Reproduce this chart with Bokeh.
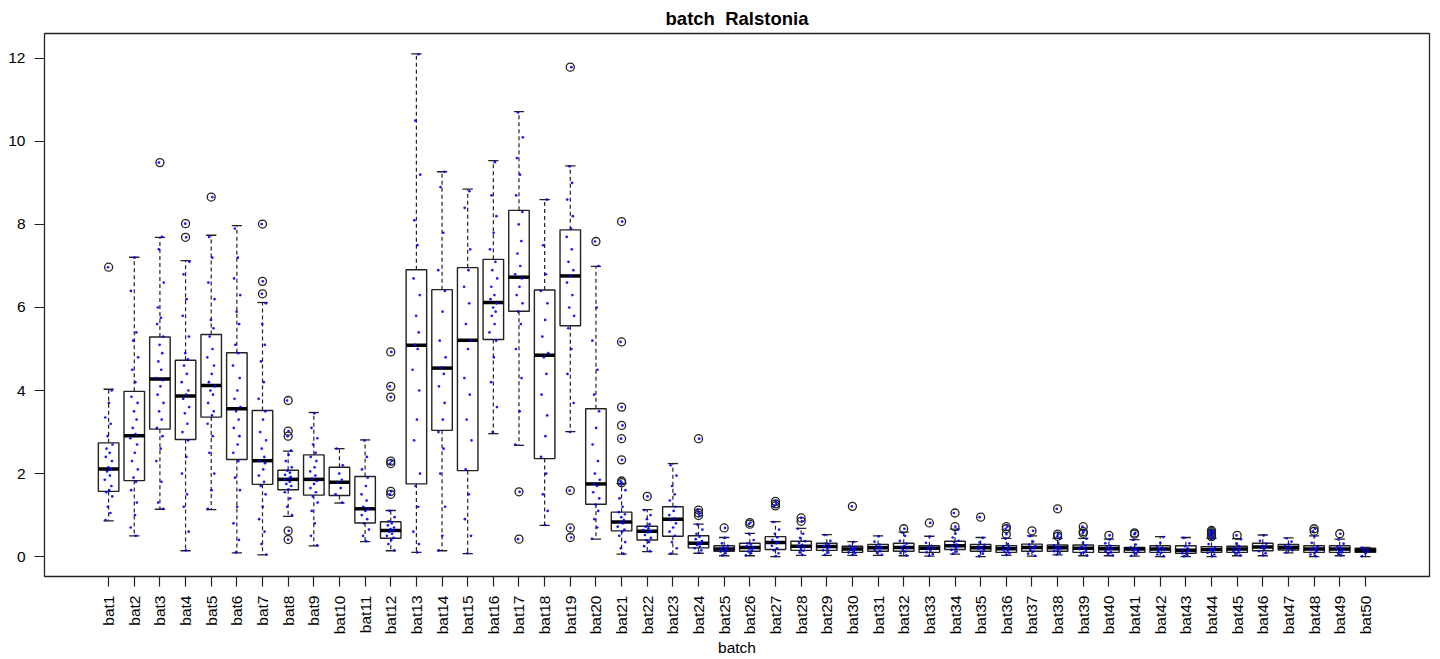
import math
from bokeh.plotting import figure
from bokeh.models import Range1d, FixedTicker
from bokeh.embed import file_html
from bokeh.resources import INLINE

# ---------------- data ----------------
batches = [f"bat{i}" for i in range(1, 51)]

whisk_lo = [0.86, 0.50, 1.14, 0.14, 1.13, 0.09, 0.04, 0.97, 0.26, 1.29,
            0.36, 0.14, 0.10, 0.14, 0.07, 2.96, 2.68, 0.75, 3.01, 0.42,
            0.06, 0.12, 0.06, 0.08, 0.02, 0.02, 0.00, 0.03, 0.03, 0.03,
            0.03, 0.02, 0.01, 0.06, 0.00, 0.03, 0.01, 0.04, 0.02, 0.02,
            0.01, 0.00, 0.00, 0.00, 0.02, 0.02, 0.09, 0.00, 0.02, 0.00]
q1 = [1.57, 1.83, 3.07, 2.82, 3.36, 2.34, 1.74, 1.61, 1.48, 1.47,
      0.81, 0.44, 1.75, 3.04, 2.07, 5.23, 5.91, 2.36, 5.56, 1.26,
      0.62, 0.40, 0.49, 0.21, 0.13, 0.13, 0.17, 0.15, 0.15, 0.10,
      0.13, 0.13, 0.10, 0.17, 0.13, 0.10, 0.13, 0.13, 0.10, 0.10,
      0.10, 0.10, 0.08, 0.10, 0.10, 0.14, 0.16, 0.10, 0.10, 0.10]
median = [2.11, 2.91, 4.28, 3.87, 4.12, 3.56, 2.31, 1.86, 1.86, 1.79,
          1.15, 0.63, 5.09, 4.54, 5.21, 6.12, 6.73, 4.85, 6.76, 1.75,
          0.83, 0.61, 0.90, 0.32, 0.18, 0.22, 0.34, 0.25, 0.24, 0.18,
          0.21, 0.22, 0.20, 0.26, 0.21, 0.19, 0.22, 0.21, 0.20, 0.19,
          0.18, 0.18, 0.15, 0.17, 0.18, 0.23, 0.22, 0.18, 0.18, 0.15]
q3 = [2.74, 3.98, 5.29, 4.73, 5.35, 4.91, 3.52, 2.08, 2.45, 2.15,
      1.93, 0.84, 6.91, 6.43, 6.96, 7.16, 8.34, 6.42, 7.87, 3.56,
      1.07, 0.73, 1.20, 0.50, 0.26, 0.32, 0.48, 0.37, 0.32, 0.25,
      0.29, 0.32, 0.26, 0.37, 0.29, 0.26, 0.30, 0.28, 0.28, 0.26,
      0.22, 0.26, 0.26, 0.24, 0.25, 0.32, 0.29, 0.26, 0.26, 0.20]
whisk_hi = [4.03, 7.21, 7.69, 7.13, 7.74, 7.97, 6.12, 2.54, 3.47, 2.60,
            2.81, 1.11, 12.11, 9.27, 8.85, 9.54, 10.72, 8.60, 9.41, 6.99,
            1.76, 1.13, 2.24, 0.78, 0.46, 0.56, 0.84, 0.68, 0.53, 0.36,
            0.50, 0.59, 0.49, 0.66, 0.46, 0.44, 0.50, 0.44, 0.44, 0.42,
            0.41, 0.48, 0.46, 0.44, 0.43, 0.52, 0.45, 0.50, 0.42, 0.22]

outliers = [
    [6.97], [], [9.49], [8.02, 7.69], [8.66], [], [8.01, 6.63, 6.33],
    [3.76, 3.02, 2.90, 0.62, 0.41], [], [], [],
    [4.93, 4.10, 3.84, 2.30, 2.24, 1.57, 1.50], [], [], [], [],
    [1.56, 0.42], [], [11.79, 1.59, 0.69, 0.46], [7.59],
    [8.07, 5.17, 3.60, 3.16, 2.84, 2.33, 1.82, 1.78], [1.45], [],
    [2.84, 1.12, 1.05, 0.99], [0.69], [0.82, 0.78], [1.33, 1.27, 1.22],
    [0.93, 0.85], [], [1.21], [], [0.67], [0.81], [1.05, 0.72], [0.95],
    [0.72, 0.67, 0.54], [0.62], [1.15, 0.54, 0.49], [0.72, 0.60, 0.56],
    [0.51], [0.57, 0.54], [], [], [0.63, 0.60, 0.57, 0.54, 0.51, 0.48],
    [0.51], [], [], [0.67, 0.61], [0.55], [],
]

points = [
    [0.88, 1.05, 1.2, 1.45, 1.55, 1.6, 1.7, 1.85, 1.95, 2.05, 2.1, 2.15, 2.3, 2.4, 2.5, 2.6, 2.7, 2.9, 3.2, 3.35, 3.7, 4.0],
    [0.5, 0.7, 1.0, 1.3, 1.6, 1.8, 1.9, 2.1, 2.3, 2.5, 2.7, 2.85, 2.95, 3.1, 3.3, 3.5, 3.7, 3.85, 4.2, 4.5, 4.8, 5.2, 5.4, 6.4, 7.2],
    [1.15, 1.3, 1.8, 2.3, 2.6, 2.9, 3.1, 3.3, 3.5, 3.7, 3.9, 4.1, 4.25, 4.3, 4.5, 4.7, 4.9, 5.1, 5.3, 5.6, 5.75, 6.0, 6.6, 7.4, 7.7],
    [0.15, 0.6, 1.2, 1.5, 2.0, 2.4, 2.8, 3.0, 3.2, 3.45, 3.6, 3.8, 3.9, 4.0, 4.2, 4.4, 4.6, 4.75, 4.9, 5.3, 5.8, 6.2, 6.8, 7.1],
    [1.15, 1.6, 2.0, 2.5, 2.9, 3.2, 3.4, 3.5, 3.7, 3.9, 4.0, 4.1, 4.2, 4.4, 4.6, 4.8, 5.0, 5.3, 5.5, 5.7, 6.2, 6.6, 7.2, 7.7],
    [0.1, 0.4, 0.8, 1.2, 1.6, 1.9, 2.3, 2.5, 2.7, 2.9, 3.1, 3.3, 3.5, 3.6, 3.8, 4.0, 4.3, 4.6, 4.9, 5.1, 5.6, 5.9, 6.3, 6.7, 7.2, 7.9],
    [0.05, 0.3, 0.6, 0.9, 1.2, 1.5, 1.7, 1.8, 1.95, 2.1, 2.25, 2.3, 2.4, 2.6, 2.8, 3.0, 3.3, 3.5, 3.8, 4.2, 4.7, 5.1, 5.6, 6.1],
    [1.0, 1.2, 1.4, 1.55, 1.62, 1.7, 1.75, 1.8, 1.85, 1.88, 1.92, 1.97, 2.02, 2.07, 2.15, 2.3, 2.45, 2.55],
    [0.27, 0.5, 0.8, 1.1, 1.3, 1.45, 1.55, 1.65, 1.75, 1.82, 1.88, 1.95, 2.05, 2.15, 2.3, 2.4, 2.5, 2.7, 2.85, 3.1, 3.45],
    [1.3, 1.5, 1.65, 1.78, 1.85, 2.0, 2.2, 2.6],
    [0.37, 0.5, 0.65, 0.8, 0.9, 1.0, 1.1, 1.15, 1.2, 1.35, 1.5, 1.7, 1.9, 2.1, 2.4, 2.8],
    [0.15, 0.3, 0.4, 0.45, 0.5, 0.55, 0.6, 0.63, 0.66, 0.7, 0.75, 0.8, 0.85, 0.95, 1.1],
    [0.1, 0.3, 0.6, 1.2, 1.7, 2.0, 2.8, 3.3, 4.0, 4.5, 5.0, 5.1, 5.4, 5.8, 6.3, 6.7, 7.5, 8.1, 9.2, 10.5, 12.1],
    [0.15, 0.5, 1.2, 2.0, 2.6, 3.0, 3.3, 3.7, 4.1, 4.4, 4.55, 4.8, 5.2, 5.9, 6.4, 6.9, 7.8, 8.9, 9.27],
    [0.08, 0.5, 0.9, 1.5, 2.1, 2.8, 3.3, 3.9, 4.3, 5.0, 5.2, 5.6, 6.1, 6.5, 6.9, 7.4, 8.4, 8.8],
    [3.0, 3.6, 4.2, 4.8, 5.2, 5.4, 5.6, 5.8, 5.9, 6.0, 6.1, 6.2, 6.3, 6.5, 6.7, 6.9, 7.1, 7.4, 7.8, 8.2, 8.7, 9.5],
    [2.7, 3.5, 4.3, 5.0, 5.6, 5.9, 6.1, 6.3, 6.5, 6.7, 6.8, 7.0, 7.3, 7.6, 8.0, 8.3, 8.7, 9.2, 9.6, 10.1, 10.7],
    [0.76, 1.1, 1.5, 2.0, 2.4, 2.9, 3.4, 3.9, 4.4, 4.8, 4.9, 5.3, 5.7, 6.1, 6.4, 6.8, 7.5, 8.6],
    [3.0, 3.7, 4.4, 5.0, 5.5, 5.8, 6.0, 6.3, 6.6, 6.75, 6.9, 7.1, 7.4, 7.7, 7.9, 8.2, 8.6, 9.0, 9.4],
    [0.43, 0.7, 0.9, 1.1, 1.25, 1.4, 1.55, 1.7, 1.75, 1.85, 2.0, 2.3, 2.7, 3.1, 3.5, 3.9, 4.5, 5.2, 6.0, 7.0],
    [0.07, 0.2, 0.35, 0.5, 0.6, 0.65, 0.72, 0.8, 0.83, 0.88, 0.95, 1.02, 1.07, 1.2, 1.4, 1.6, 1.75],
    [0.13, 0.25, 0.35, 0.4, 0.45, 0.52, 0.58, 0.61, 0.64, 0.68, 0.72, 0.78, 0.9, 1.0, 1.12],
    [0.07, 0.2, 0.35, 0.5, 0.6, 0.7, 0.8, 0.88, 0.92, 1.0, 1.1, 1.2, 1.35, 1.5, 1.7, 1.95, 2.2],
    [0.09, 0.15, 0.2, 0.24, 0.28, 0.31, 0.33, 0.37, 0.42, 0.48, 0.55, 0.65, 0.77],
    [0.03, 0.08, 0.12, 0.14, 0.16, 0.18, 0.2, 0.23, 0.26, 0.32, 0.45],
    [0.03, 0.08, 0.12, 0.15, 0.19, 0.22, 0.25, 0.29, 0.32, 0.4, 0.55],
    [0.01, 0.08, 0.15, 0.2, 0.26, 0.32, 0.35, 0.4, 0.46, 0.55, 0.65, 0.83],
    [0.04, 0.1, 0.14, 0.18, 0.22, 0.25, 0.28, 0.33, 0.37, 0.45, 0.55, 0.67],
    [0.04, 0.1, 0.15, 0.19, 0.23, 0.25, 0.28, 0.31, 0.38, 0.52],
    [0.04, 0.08, 0.1, 0.13, 0.16, 0.18, 0.2, 0.23, 0.26, 0.35],
    [0.04, 0.09, 0.13, 0.16, 0.2, 0.22, 0.25, 0.29, 0.36, 0.49],
    [0.03, 0.08, 0.12, 0.16, 0.2, 0.23, 0.26, 0.31, 0.38, 0.5, 0.58],
    [0.02, 0.06, 0.1, 0.14, 0.18, 0.2, 0.22, 0.26, 0.33, 0.48],
    [0.07, 0.12, 0.16, 0.2, 0.24, 0.26, 0.29, 0.34, 0.38, 0.46, 0.55, 0.65],
    [0.01, 0.07, 0.12, 0.16, 0.19, 0.21, 0.24, 0.28, 0.34, 0.45],
    [0.04, 0.08, 0.11, 0.14, 0.17, 0.19, 0.22, 0.25, 0.3, 0.43],
    [0.02, 0.07, 0.12, 0.16, 0.2, 0.22, 0.25, 0.29, 0.36, 0.49],
    [0.05, 0.09, 0.13, 0.16, 0.19, 0.21, 0.24, 0.27, 0.33, 0.43],
    [0.03, 0.07, 0.1, 0.14, 0.18, 0.2, 0.23, 0.27, 0.33, 0.43],
    [0.03, 0.07, 0.1, 0.13, 0.17, 0.19, 0.22, 0.26, 0.32, 0.41],
    [0.02, 0.06, 0.1, 0.13, 0.16, 0.18, 0.2, 0.22, 0.29, 0.4],
    [0.01, 0.05, 0.09, 0.13, 0.16, 0.18, 0.21, 0.25, 0.33, 0.47],
    [0.01, 0.04, 0.08, 0.11, 0.14, 0.16, 0.2, 0.25, 0.32, 0.45],
    [0.01, 0.05, 0.09, 0.12, 0.15, 0.17, 0.19, 0.23, 0.3, 0.43],
    [0.03, 0.07, 0.1, 0.13, 0.16, 0.18, 0.21, 0.25, 0.31, 0.42],
    [0.03, 0.08, 0.13, 0.17, 0.21, 0.23, 0.26, 0.31, 0.38, 0.51],
    [0.1, 0.15, 0.19, 0.22, 0.25, 0.29, 0.36, 0.44],
    [0.01, 0.05, 0.09, 0.13, 0.16, 0.18, 0.21, 0.25, 0.33, 0.49],
    [0.03, 0.07, 0.1, 0.13, 0.16, 0.18, 0.21, 0.25, 0.31, 0.41],
    [0.01, 0.08, 0.12, 0.15, 0.18, 0.21],
]

y_ticks = [0, 2, 4, 6, 8, 10, 12]

# fixed horizontal jitter pattern (positions only)
JITTER = [-0.12, 0.07, -0.03, 0.14, -0.09, 0.02, 0.11, -0.15, 0.05, -0.06,
          0.09, -0.01, 0.13, -0.11, 0.04, -0.08, 0.15, -0.04, 0.08, -0.13,
          0.01, 0.12, -0.07, 0.06, -0.14, 0.03, 0.10]

FONT = "Liberation Sans"

xs = list(range(1, len(batches) + 1))

p = figure(width=1440, height=659,
           x_range=Range1d(-1.5, 52.5), y_range=Range1d(-0.48, 12.6),
           output_backend="svg", toolbar_location=None,
           min_border_left=44, min_border_right=11,
           min_border_top=32, min_border_bottom=81,
           title="batch\u00a0 Ralstonia")
p.background_fill_color = "white"
p.border_fill_color = "white"
p.outline_line_color = "#222222"
p.outline_line_width = 1.3
p.xgrid.visible = False
p.ygrid.visible = False

p.title.align = "center"
p.title.text_font = FONT
p.title.text_font_size = "18.5px"
p.title.text_font_style = "bold"
p.title.text_color = "black"

xa = p.xaxis[0]
xa.ticker = FixedTicker(ticks=xs)
xa.major_label_overrides = {x: b for x, b in zip(xs, batches)}
xa.major_label_orientation = math.pi / 2
xa.axis_label = "batch"
ya = p.yaxis[0]
ya.ticker = FixedTicker(ticks=y_ticks)
for ax in (xa, ya):
    ax.axis_line_color = None
    ax.major_tick_out = 10
    ax.major_tick_in = 0
    ax.minor_tick_line_color = None
    ax.major_tick_line_color = "#222222"
    ax.major_tick_line_width = 1.2
    ax.major_label_text_font = FONT
    ax.major_label_text_font_size = "15.5px"
    ax.major_label_text_color = "black"
    ax.major_label_standoff = 9
    ax.axis_label_text_font = FONT
    ax.axis_label_text_font_size = "15.5px"
    ax.axis_label_text_font_style = "normal"
    ax.axis_label_text_color = "black"
    ax.axis_label_standoff = 2

BW = 0.4   # half box width
SW = 0.2   # half staple width

# whiskers (dashed)
p.segment(x0=xs, y0=q3, x1=xs, y1=whisk_hi, line_color="#222222",
          line_width=1.2, line_dash="4 3")
p.segment(x0=xs, y0=q1, x1=xs, y1=whisk_lo, line_color="#222222",
          line_width=1.2, line_dash="4 3")
# staples
p.segment(x0=[x - SW for x in xs], y0=whisk_hi, x1=[x + SW for x in xs],
          y1=whisk_hi, line_color="#222222", line_width=1.3)
p.segment(x0=[x - SW for x in xs], y0=whisk_lo, x1=[x + SW for x in xs],
          y1=whisk_lo, line_color="#222222", line_width=1.3)
# boxes
p.quad(left=[x - BW for x in xs], right=[x + BW for x in xs],
       bottom=q1, top=q3, fill_color="white", line_color="#222222",
       line_width=1.4)
# medians
p.segment(x0=[x - BW for x in xs], y0=median, x1=[x + BW for x in xs],
          y1=median, line_color="black", line_width=3.5)
# outliers
ox, oy = [], []
for x, outs in zip(xs, outliers):
    for v in outs:
        ox.append(x)
        oy.append(v)
p.scatter(x=ox, y=oy, marker="circle", size=8, fill_color=None,
          line_color="#222222", line_width=1.3)

# jittered raw points (including outlier values)
px, py = [], []
k = 0
for x, pts, outs in zip(xs, points, outliers):
    for v in pts + outs:
        px.append(x + JITTER[k % len(JITTER)] * (0.3 if v in outs else 1.0))
        py.append(v)
        k += 1
p.scatter(x=px, y=py, marker="circle", size=2.7, fill_color="#0000ff",
          line_color=None, fill_alpha=0.9)

open("out.html", "w").write(file_html(p, INLINE))
